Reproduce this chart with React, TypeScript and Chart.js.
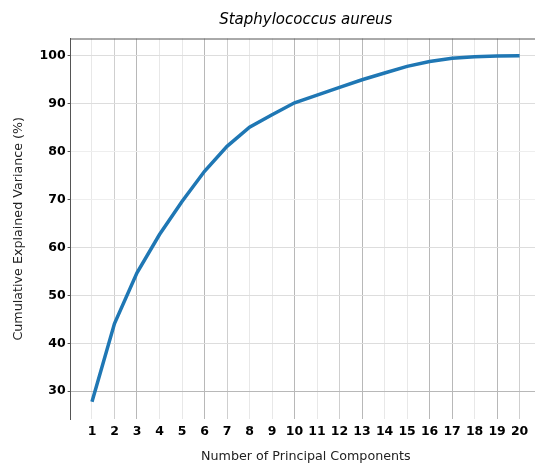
import React, { useEffect, useRef } from "react";
import { Chart, registerables } from "chart.js";

Chart.register(...registerables);

const components = [1, 2, 3, 4, 5, 6, 7, 8, 9, 10, 11, 12, 13, 14, 15, 16, 17, 18, 19, 20];
const cumulativeVariance = [27.8, 44.1, 54.7, 62.7, 69.6, 75.9, 81.1, 85.1, 87.7, 90.2, 91.8, 93.4, 95.0, 96.4, 97.8, 98.8, 99.5, 99.8, 99.95, 100];
const yTickValues = [30, 40, 50, 60, 70, 80, 90, 100];
const chartTitle = "Staphylococcus aureus";
const xTitle = "Number of Principal Components";
const yTitle = "Cumulative Explained Variance (%)";

const FONT = "'DejaVu Sans', sans-serif";

const xDark = new Set([3, 6, 10, 13, 16, 17, 19]);
const xMed = new Set([2, 7, 12, 20]);

const topSpine = {
  id: "topSpine",
  afterDraw(chart: any) {
    const { ctx, chartArea } = chart;
    ctx.save();
    ctx.strokeStyle = "#555555";
    ctx.lineWidth = 1;
    ctx.beginPath();
    ctx.moveTo(chartArea.left, chartArea.top + 0.5);
    ctx.lineTo(chartArea.right, chartArea.top + 0.5);
    ctx.stroke();
    ctx.restore();
  },
};

export default function App() {
  const ref = useRef<HTMLCanvasElement>(null);
  useEffect(() => {
    const span = components[components.length - 1] - components[0];
    const minX = components[0] - 0.05 * span;
    const maxX = components[components.length - 1] + 0.05 * span;
    const yLo = Math.min(...cumulativeVariance);
    const yHi = Math.max(...cumulativeVariance);
    const minY = yLo - 0.05 * (yHi - yLo);
    const maxY = yHi + 0.05 * (yHi - yLo);
    const chart = new Chart(ref.current!, {
      type: "line",
      data: {
        datasets: [
          {
            data: components.map((c, i) => ({ x: c, y: cumulativeVariance[i] })),
            borderColor: "#1f77b4",
            borderWidth: 3.5,
            pointRadius: 0,
            tension: 0,
            fill: false,
          },
        ],
      },
      options: {
        animation: false,
        responsive: false,
        devicePixelRatio: 1,
        layout: { padding: 0 },
        plugins: {
          legend: { display: false },
          tooltip: { enabled: false },
          title: {
            display: true,
            text: chartTitle,
            fullSize: false,
            color: "#000",
            font: { family: FONT, size: 15, style: "italic", weight: "normal", lineHeight: 1.2 },
            padding: { top: 11, bottom: 9.5 },
          },
        },
        scales: {
          x: {
            type: "linear",
            min: minX,
            max: maxX,
            afterBuildTicks: (s: any) => {
              s.ticks = components.map((v) => ({ value: v }));
            },
            afterFit: (s: any) => {
              s.height = 45;
            },
            border: { display: false },
            grid: {
              drawTicks: false,
              lineWidth: 1,
              color: (c: any) => {
                const v = c.tick?.value;
                if (xDark.has(v)) return "#b8b8b8";
                if (xMed.has(v)) return "#cfcfcf";
                return "#e8e8e8";
              },
            },
            ticks: {
              color: "#000",
              padding: 5,
              autoSkip: false,
              maxRotation: 0,
              font: { family: FONT, size: 12.5, weight: "bold" },
              callback: (v: any) => String(v),
            },
            title: {
              display: true,
              text: xTitle,
              color: "#222",
              font: { family: FONT, size: 12.7 },
              padding: { top: 0, bottom: 0 },
            },
          },
          y: {
            type: "linear",
            min: minY,
            max: maxY,
            afterBuildTicks: (s: any) => {
              s.ticks = yTickValues.map((v) => ({ value: v }));
            },
            afterFit: (s: any) => {
              s.width = 70.6;
            },
            border: { display: true, color: "#555555", width: 1 },
            grid: {
              drawTicks: true,
              tickLength: 3,
              tickColor: "#555555",
              lineWidth: 1,
              color: (c: any) => {
                const v = c.tick?.value;
                if (v === 30) return "#b8b8b8";
                if (v === 70 || v === 80) return "#eeeeee";
                return "#dddddd";
              },
            },
            ticks: {
              color: "#000",
              padding: 2,
              font: { family: FONT, size: 12.5, weight: "bold" },
              callback: (v: any) => String(v),
            },
            title: {
              display: true,
              text: yTitle,
              color: "#222",
              font: { family: FONT, size: 12.7 },
              padding: { top: 11, bottom: 0 },
            },
          },
        },
      },
      plugins: [topSpine],
    });
    return () => chart.destroy();
  }, []);
  return (
    <div style={{ position: "fixed", left: 0, top: 0, width: 535, height: 464, overflow: "hidden", background: "#fff" }}>
      <canvas ref={ref} width={541} height={464} style={{ display: "block" }} />
    </div>
  );
}
